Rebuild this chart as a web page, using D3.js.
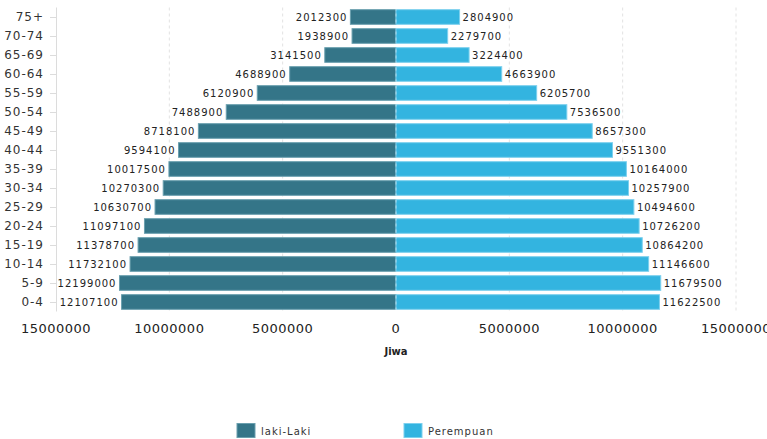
<!DOCTYPE html>
<html><head><meta charset="utf-8">
<script src="https://cdn.jsdelivr.net/npm/d3@7"></script>
<style>body{margin:0;background:#fff;}svg{display:block;font-family:"DejaVu Sans",Verdana,sans-serif;}</style>
</head><body>
<svg id="c" width="767" height="439"></svg>
<script>
const ageGroups = ["0-4","5-9","10-14","15-19","20-24","25-29","30-34","35-39","40-44","45-49","50-54","55-59","60-64","65-69","70-74","75+"];
const male = [12107100,12199000,11732100,11378700,11097100,10630700,10270300,10017500,9594100,8718100,7488900,6120900,4688900,3141500,1938900,2012300];
const female = [11622500,11679500,11146600,10864200,10726200,10494600,10257900,10164000,9551300,8657300,7536500,6205700,4663900,3224400,2279700,2804900];
const xTicks = [-15000000,-10000000,-5000000,0,5000000,10000000,15000000];
const seriesNames = ["laki-Laki","Perempuan"];
const colors = ["#347588","#33b4e0"];

const svg = d3.select("#c");
const pL = 56, pR = 736, pT = 7.5, pB = 311.5;
const x = d3.scaleLinear().domain([-15000000,15000000]).range([pL,pR]);
const y = d3.scaleBand().domain(ageGroups.slice().reverse()).range([pT,pB]).paddingInner(0.23).paddingOuter(0.115);

// gridlines
svg.append("g").selectAll("line").data(xTicks.filter(d=>d!==-15000000 && d!==0)).join("line")
  .attr("x1",d=>x(d)).attr("x2",d=>x(d)).attr("y1",pT).attr("y2",pB)
  .attr("stroke","#e2e2e2").attr("stroke-dasharray","3,3").attr("stroke-width",1);

// y axis line
svg.append("line").attr("x1",pL+0.5).attr("x2",pL+0.5).attr("y1",pT).attr("y2",pB)
  .attr("stroke","#dcdcdc");

// y ticks & labels
const yg = svg.append("g");
yg.selectAll("line").data(ageGroups).join("line")
  .attr("x1",pL-6).attr("x2",pL).attr("y1",d=>y(d)+y.bandwidth()/2+0.5).attr("y2",d=>y(d)+y.bandwidth()/2+0.5)
  .attr("stroke","#dcdcdc");
yg.selectAll("text").data(ageGroups).join("text")
  .attr("x",pL-12).attr("y",d=>y(d)+y.bandwidth()/2).attr("dy","0.36em")
  .attr("text-anchor","end").attr("font-size",12).attr("letter-spacing",1).attr("fill","#333").text(d=>d);

// bars
const bars = svg.append("g");
bars.selectAll("rect.m").data(ageGroups).join("rect").attr("class","m")
  .attr("x",(d,i)=>x(-male[i])).attr("width",(d,i)=>x(0)-x(-male[i]))
  .attr("y",d=>y(d)).attr("height",y.bandwidth())
  .attr("fill",colors[0]).attr("stroke","#6a9fae").attr("stroke-width",1);
bars.selectAll("rect.f").data(ageGroups).join("rect").attr("class","f")
  .attr("x",x(0)).attr("width",(d,i)=>x(female[i])-x(0))
  .attr("y",d=>y(d)).attr("height",y.bandwidth())
  .attr("fill",colors[1]).attr("stroke","#7dd0ee").attr("stroke-width",1);

// zero dashed line on top
svg.append("line").attr("x1",x(0)).attr("x2",x(0)).attr("y1",pT).attr("y2",pB)
  .attr("stroke","rgba(255,255,255,0.45)").attr("stroke-dasharray","3,3");

// value labels
const lg = svg.append("g").attr("font-size",10).attr("letter-spacing",1).attr("fill","#222");
lg.selectAll("text.m").data(ageGroups).join("text").attr("class","m")
  .attr("x",(d,i)=>x(-male[i])-3).attr("y",d=>y(d)+y.bandwidth()/2).attr("dy","0.36em")
  .attr("text-anchor","end").text((d,i)=>male[i]);
lg.selectAll("text.f").data(ageGroups).join("text").attr("class","f")
  .attr("x",(d,i)=>x(female[i])+3).attr("y",d=>y(d)+y.bandwidth()/2).attr("dy","0.36em")
  .attr("text-anchor","start").text((d,i)=>female[i]);

// x tick labels
svg.append("g").selectAll("text").data(xTicks).join("text")
  .attr("x",d=>x(d)).attr("y",333).attr("text-anchor","middle")
  .attr("font-size",13).attr("letter-spacing",0.5).attr("fill","#222").text(d=>Math.abs(d));

// axis title
svg.append("text").attr("x",x(0)).attr("y",355).attr("text-anchor","middle")
  .attr("font-size",10).attr("font-weight","bold").attr("fill","#222").text("Jiwa");

// legend
const legX = [237,404];
const leg = svg.append("g");
seriesNames.forEach((n,i)=>{
  leg.append("rect").attr("x",legX[i]).attr("y",423.5).attr("width",18).attr("height",14)
    .attr("fill",colors[i]).attr("stroke",i?"#7dd0ee":"#6a9fae");
  leg.append("text").attr("x",legX[i]+24).attr("y",431).attr("dy","0.36em")
    .attr("font-size",10).attr("letter-spacing",1).attr("fill","#333").text(n);
});
</script>
</body></html>
